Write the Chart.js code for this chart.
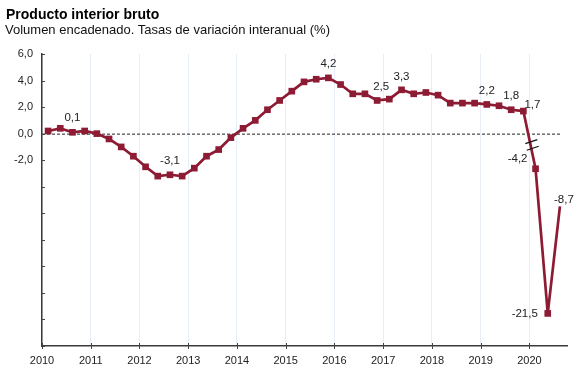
<!DOCTYPE html>
<html><head><meta charset="utf-8">
<script src="https://cdn.jsdelivr.net/npm/chart.js@4"></script>
<style>
html,body{margin:0;padding:0;background:#fff;}
#wrap{position:relative;width:588px;height:368px;overflow:hidden;}
canvas{position:absolute;left:0;top:0;}
#title{position:absolute;left:6px;top:6px;font:bold 14px "Liberation Sans",Arial,sans-serif;color:#000;white-space:nowrap;}
#sub{position:absolute;left:5px;top:22px;font:13px "Liberation Sans",Arial,sans-serif;color:#111;white-space:nowrap;}
</style></head><body>
<div id="wrap">
<canvas id="c" width="588" height="368"></canvas>
<div id="title">Producto interior bruto</div>
<div id="sub">Volumen encadenado. Tasas de variación interanual (%)</div>
</div>
<script>
// Categories: quarters 2010-T1 .. 2020-T3
const quarters = [
 '2010-T1','2010-T2','2010-T3','2010-T4',
 '2011-T1','2011-T2','2011-T3','2011-T4',
 '2012-T1','2012-T2','2012-T3','2012-T4',
 '2013-T1','2013-T2','2013-T3','2013-T4',
 '2014-T1','2014-T2','2014-T3','2014-T4',
 '2015-T1','2015-T2','2015-T3','2015-T4',
 '2016-T1','2016-T2','2016-T3','2016-T4',
 '2017-T1','2017-T2','2017-T3','2017-T4',
 '2018-T1','2018-T2','2018-T3','2018-T4',
 '2019-T1','2019-T2','2019-T3','2019-T4',
 '2020-T1','2020-T2','2020-T3'
];
// GDP year-on-year change (%)
const gdpValues = [
 0.2, 0.4, 0.1, 0.2,
 0.0, -0.4, -1.0, -1.7,
 -2.5, -3.2, -3.1, -3.2,
 -2.6, -1.7, -1.2, -0.3,
 0.4, 1.0, 1.8, 2.5,
 3.2, 3.9, 4.1, 4.2,
 3.7, 3.0, 3.0, 2.5,
 2.6, 3.3, 3.0, 3.1,
 2.9, 2.3, 2.3, 2.3,
 2.2, 2.1, 1.8, 1.7,
 -4.2, -21.5, -8.7
];
// Points that carry a value label
const labelledQuarters = ['2010-T3','2012-T3','2015-T4','2016-T4','2017-T2','2019-T1','2019-T3','2019-T4','2020-T1','2020-T2','2020-T3'];
// Axis break: values from this quarter on are drawn compressed
const breakQuarter = '2020-T1';
const breakScale = 0.63;
const yearLabels = ['2010','2011','2012','2013','2014','2015','2016','2017','2018','2019','2020'];
const yTickValues = [6, 4, 2, 0, -2, -4, -6, -8, -10, -12, -14, -16];
const yLabelledTicks = [6, 4, 2, 0, -2];

const RED = '#8c1b33';
const breakIdx = quarters.indexOf(breakQuarter);
const points = quarters.map((q, i) => {
  const [y, t] = q.split('-T');
  return { x: Number(y) + (Number(t) - 0.5) / 4, y: i >= breakIdx ? gdpValues[i] * breakScale : gdpValues[i] };
});
const fmt = v => v.toFixed(1).replace('.', ',');

const labelOffsets = {
  '2010-T3': [0, -14], '2012-T3': [0, -14], '2015-T4': [0, -14], '2016-T4': [4, -14],
  '2017-T2': [0, -13.5], '2019-T1': [0, -14], '2019-T3': [0, -14], '2019-T4': [9, -6],
  '2020-T1': [-18, -10], '2020-T2': [-23, 0], '2020-T3': [4, -7]
};

const deco = {
  id: 'deco',
  beforeDatasetsDraw(chart) {
    const { ctx, chartArea: a, scales: { x, y } } = chart;
    const y0 = y.getPixelForValue(0);
    ctx.save();
    ctx.strokeStyle = '#222';
    ctx.lineWidth = 1;
    ctx.setLineDash([3, 2]);
    ctx.beginPath();
    ctx.moveTo(a.left, y0 + 0.5);
    ctx.lineTo(a.right - 5, y0 + 0.5);
    ctx.stroke();
    ctx.restore();
  },
  afterDatasetsDraw(chart) {
    const { ctx, chartArea: a, scales: { x, y } } = chart;
    const meta = chart.getDatasetMeta(0);
    ctx.save();
    // axis tick marks
    ctx.strokeStyle = '#444';
    ctx.lineWidth = 1;
    yTickValues.forEach(v => {
      const py = Math.round(y.getPixelForValue(v)) + 0.5;
      ctx.beginPath(); ctx.moveTo(a.left, py); ctx.lineTo(a.left + 3, py); ctx.stroke();
    });
    yearLabels.forEach(l => {
      const px = Math.round(x.getPixelForValue(Number(l))) + 0.5;
      ctx.beginPath(); ctx.moveTo(px, a.bottom - 3); ctx.lineTo(px, a.bottom + 3); ctx.stroke();
    });
    // break marks
    const p0 = meta.data[breakIdx - 1], p1 = meta.data[breakIdx];
    const y0 = y.getPixelForValue(0);
    ctx.strokeStyle = '#111';
    ctx.lineWidth = 1.2;
    [8, 14.6].forEach(d => {
      const py = y0 + d;
      const px = p0.x + (py - p0.y) * (p1.x - p0.x) / (p1.y - p0.y) + 1.5;
      ctx.beginPath(); ctx.moveTo(px - 6, py + 2); ctx.lineTo(px + 6, py - 2); ctx.stroke();
    });
    // value labels
    ctx.fillStyle = '#222';
    ctx.font = '11.5px "Liberation Sans", Arial, sans-serif';
    ctx.textAlign = 'center';
    ctx.textBaseline = 'middle';
    labelledQuarters.forEach(q => {
      const i = quarters.indexOf(q);
      const p = meta.data[i];
      const [dx, dy] = labelOffsets[q];
      ctx.fillText(fmt(gdpValues[i]), p.x + dx, p.y + dy);
    });
    ctx.restore();
  }
};

new Chart(document.getElementById('c'), {
  type: 'line',
  data: {
    datasets: [{
      data: points,
      borderColor: RED,
      backgroundColor: RED,
      borderWidth: 2.7,
      pointStyle: 'rect',
      pointRadius: quarters.map((q, i) => i === quarters.length - 1 ? 0 : 4.7),
      pointBorderWidth: 0,
      tension: 0
    }]
  },
  options: {
    responsive: false,
    animation: false,
    devicePixelRatio: 1,
    layout: { padding: { left: 0, right: 21, top: 54, bottom: 0 } },
    plugins: { legend: { display: false }, tooltip: { enabled: false } },
    scales: {
      x: {
        type: 'linear',
        min: 2010, max: 2020.77,
        afterFit: s => { s.height = 22; },
        afterBuildTicks: s => { s.ticks = yearLabels.map(l => ({ value: Number(l) })); },
        ticks: { callback: v => yearLabels.find(l => Number(l) === v) || '', maxRotation: 0, autoSkip: false,
                 font: { family: 'Liberation Sans', size: 11 }, color: '#222', padding: 8 },
        grid: { display: true, drawTicks: false, color: 'rgba(205,218,238,0.45)', lineWidth: 1 },
        border: { display: true, color: '#3a3a3a', width: 1.5 }
      },
      y: {
        min: -16, max: 6,
        afterFit: s => { s.width = 42; },
        afterBuildTicks: s => { s.ticks = yTickValues.map(v => ({ value: v })); },
        ticks: { callback: v => yLabelledTicks.includes(v) ? fmt(v) : '', autoSkip: false,
                 font: { family: 'Liberation Sans', size: 11 }, color: '#222', padding: 9 },
        grid: { display: false, drawTicks: false },
        border: { display: true, color: '#3a3a3a', width: 1.5 }
      }
    }
  },
  plugins: [deco]
});
</script>
</body></html>
